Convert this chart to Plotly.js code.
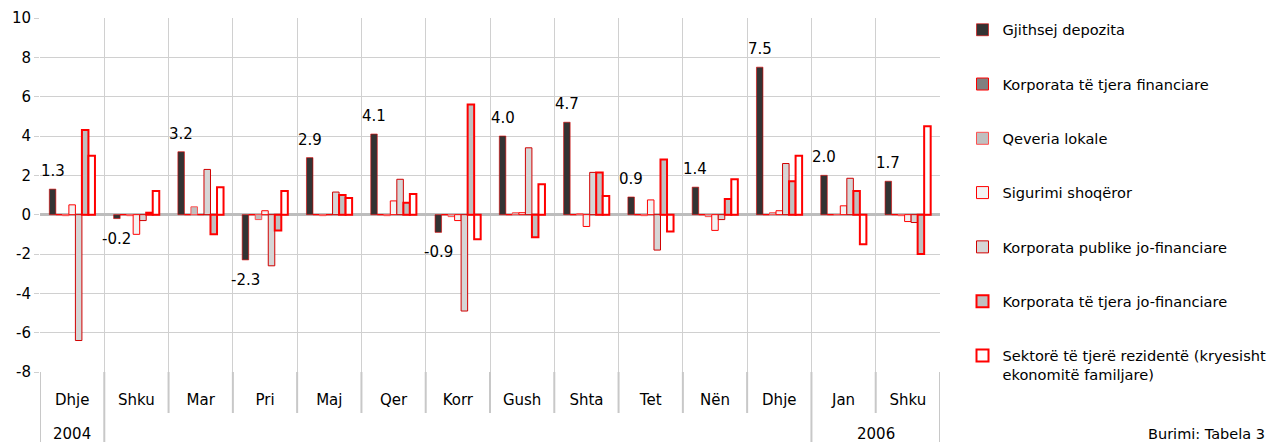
<!DOCTYPE html>
<html>
<head>
<meta charset="utf-8">
<script src="https://cdn.plot.ly/plotly-3.0.1.min.js"></script>
<style>html,body{margin:0;padding:0;background:#fff;overflow:hidden}#chart{width:1268px;height:442px}</style>
</head>
<body>
<div id="chart"></div>
<script>
// ---- data ----
const months = ['Dhje','Shku','Mar','Pri','Maj','Qer','Korr','Gush','Shta','Tet','Nën','Dhje','Jan','Shku'];
const years  = ['2004','','','','','','','','','','','','2006','2006'];
const yTicks = [-8,-6,-4,-2,0,2,4,6,8,10];

const gjithsejDepozita      = [1.3,-0.2,3.2,-2.3,2.9,4.1,-0.9,4.0,4.7,0.9,1.4,7.5,2.0,1.7];
const korporataFinanciare   = [0,0,0,0,0,0,0,0,0,0,0,0,0,0];
const qeveriaLokale         = [-0.05,-0.05,0.4,-0.25,-0.05,-0.05,-0.1,0.1,0.05,-0.05,-0.1,0.1,0,-0.05];
const sigurimiShoqeror      = [0.5,-1.0,0,0.2,0,0.7,-0.3,0.1,-0.6,0.75,-0.8,0.2,0.45,-0.35];
const korporataPublike      = [-6.4,-0.3,2.3,-2.6,1.15,1.8,-4.9,3.4,2.15,-1.8,-0.25,2.6,1.85,-0.4];
const korporataJoFinanciare = [4.3,0.1,-1.0,-0.8,1.0,0.6,5.6,-1.15,2.15,2.8,0.8,1.7,1.2,-2.0];
const sektoreTjere          = [3.0,1.2,1.4,1.2,0.85,1.05,-1.25,1.55,0.95,-0.85,1.8,3.0,-1.5,4.5];

const seriesNames = [
  'Gjithsej depozita',
  'Korporata të tjera financiare',
  'Qeveria lokale',
  'Sigurimi shoqëror',
  'Korporata publike jo-financiare',
  'Korporata të tjera jo-financiare',
  'Sektorë të tjerë rezidentë (kryesisht<br>ekonomitë familjare)'
];
const seriesValues = [gjithsejDepozita, korporataFinanciare, qeveriaLokale, sigurimiShoqeror,
                      korporataPublike, korporataJoFinanciare, sektoreTjere];

// ---- styles ----
const styles = [
  {fill:'#333333', line:'#e00000', w:0.6},
  {fill:'#808080', line:'#ff0000', w:1},
  {fill:'#c0c0c0', line:'#ff5050', w:1},
  {fill:'#f3f3f3', line:'#ff0000', w:1},
  {fill:'#d6d6d6', line:'#d00000', w:1},
  {fill:'#c0c0c0', line:'#ff0000', w:2},
  {fill:'#ffffff', line:'#ff0000', w:2}
];

const FONT = 'DejaVu Sans, Verdana, sans-serif';
const W = 1268, H = 442;
const M = {l:40, r:328, t:18, b:70, autoexpand:false};
const plotW = W - M.l - M.r, plotH = H - M.t - M.b;
const BARGAP = 0.29;
const nCat = months.length, nSer = seriesValues.length;
const barW = (1 - BARGAP) * plotW / nCat / nSer;

const xIdx = months.map((_, i) => i);

const traces = seriesValues.map((vals, s) => ({
  type: 'bar',
  name: seriesNames[s],
  legendgroup: 'g' + s,
  x: xIdx,
  y: vals,
  marker: {color: styles[s].fill, line: {color: styles[s].line, width: styles[s].w}},
  hoverinfo: 'skip'
}));

// data labels for total deposits
const annotations = gjithsejDepozita.map((v, i) => ({
  x: i, y: v, xref: 'x', yref: 'y',
  text: v.toFixed(1),
  showarrow: false,
  xshift: -3 * barW,
  yshift: v >= 0 ? 7 : -9,
  yanchor: v >= 0 ? 'bottom' : 'top',
  xanchor: 'center',
  font: {family: FONT, size: 15, color: '#000'}
}));

// year groups
const groups = [];
years.forEach((y, i) => {
  if (i === 0 || y !== years[i - 1]) groups.push({name: y, start: i, end: i});
  else groups[groups.length - 1].end = i;
});
groups.forEach(g => {
  if (g.name) annotations.push({
    x: (g.start + g.end) / 2, xref: 'x', y: -62 / plotH, yref: 'paper',
    text: g.name, showarrow: false, xanchor: 'center', yanchor: 'middle',
    font: {family: FONT, size: 15, color: '#000'}
  });
});

annotations.push({
  x: (1267 - M.l) / plotW, xref: 'paper', y: -62 / plotH, yref: 'paper',
  text: 'Burimi: Tabela 3', showarrow: false, xanchor: 'right', yanchor: 'middle',
  font: {family: FONT, size: 14.5, color: '#000'}
});

// separator lines below the axis
const shapes = [];
const groupEdges = new Set();
groups.forEach(g => { groupEdges.add(g.start - 0.5); groupEdges.add(g.end + 0.5); });
for (let k = 0; k <= nCat; k++) {
  const xb = k - 0.5;
  const long = groupEdges.has(xb);
  shapes.push({
    type: 'line', xref: 'x', yref: 'paper', layer: 'below',
    x0: xb, x1: xb, y0: 0, y1: long ? -M.b / plotH : -41 / plotH,
    line: {color: '#c8c8c8', width: 2}
  });
}

const layout = {
  width: W, height: H,
  margin: M,
  paper_bgcolor: '#fff', plot_bgcolor: '#fff',
  font: {family: FONT, size: 15, color: '#000'},
  barmode: 'group',
  bargap: BARGAP,
  bargroupgap: 0,
  showlegend: true,
  legend: {
    x: 1.025, xanchor: 'left', y: 1.012, yanchor: 'top',
    font: {family: FONT, size: 14.6, color: '#000'},
    tracegroupgap: 32.3,
    traceorder: 'grouped',
    valign: 'top',
    maxheight: 440,
    bgcolor: 'rgba(0,0,0,0)'
  },
  xaxis: {
    type: 'linear',
    range: [-0.5, nCat - 0.5],
    tickmode: 'array',
    tickvals: xIdx,
    ticktext: months,
    ticks: '',
    ticklabelstandoff: 17,
    showgrid: false,
    zeroline: false,
    showline: false,
    tickfont: {family: FONT, size: 15, color: '#000'},
    minor: {
      tickmode: 'array',
      tickvals: Array.from({length: nCat + 1}, (_, k) => k - 0.5),
      showgrid: true, gridcolor: '#d0d0d0', gridwidth: 1, ticks: ''
    },
    fixedrange: true
  },
  yaxis: {
    range: [-8, 10],
    tickmode: 'array',
    tickvals: yTicks,
    ticktext: yTicks.map(String),
    showgrid: true, gridcolor: '#d0d0d0', gridwidth: 1,
    zeroline: true, zerolinecolor: '#bdbdbd', zerolinewidth: 3,
    ticks: 'outside', ticklen: 5, tickcolor: '#d0d0d0',
    showline: false,
    tickfont: {family: FONT, size: 15, color: '#000'},
    fixedrange: true
  },
  annotations: annotations,
  shapes: shapes
};

Plotly.newPlot('chart', traces, layout, {displayModeBar: false, staticPlot: true});
</script>
</body>
</html>
